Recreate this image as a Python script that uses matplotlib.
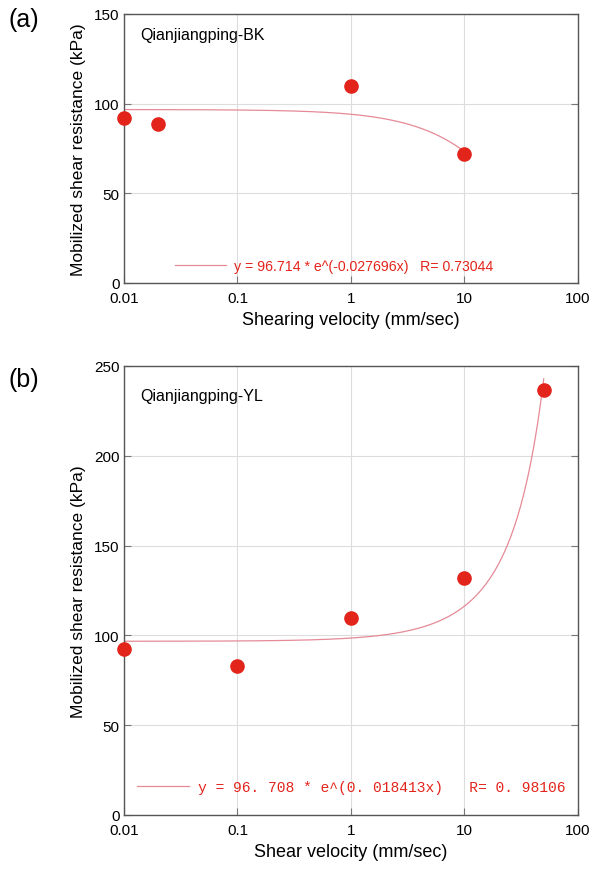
import numpy as np
import matplotlib.pyplot as plt

plt.rcParams['font.family'] = ['Liberation Sans', 'DejaVu Sans']

# Panel (a) data
VEL_A = [0.01, 0.02, 1, 10]
RES_A = [92, 88.5, 110, 72]
FIT_A = (96.714, -0.027696)
LEG_A = "y = 96.714 * e^(-0.027696x)   R= 0.73044"

# Panel (b) data
VEL_B = [0.01, 0.1, 1, 10, 50]
RES_B = [92.5, 83, 109.5, 132, 236.5]
FIT_B = (96.708, 0.018413)
LEG_B = "y = 96. 708 * e^(0. 018413x)   R= 0. 98106"

XTICKS = [0.01, 0.1, 1, 10, 100]
XTICKLABELS = ["0.01", "0.1", "1", "10", "100"]

PT_COLOR = "#e3241b"
FIT_COLOR = "#e58a96"

fig = plt.figure(figsize=(5.97, 8.70), dpi=100)
ax_a = fig.add_axes([0.2077, 0.6736, 0.7603, 0.3092])
ax_b = fig.add_axes([0.2077, 0.0621, 0.7603, 0.5161])


def draw_panel(ax, vel, res, fit, legend_text, ylim, yticks, xlabel, name,
               leg_font, leg_loc, hlen):
    xs = np.logspace(np.log10(vel[0]), np.log10(vel[-1]), 400)
    a, b = fit
    ax.plot(xs, a * np.exp(b * xs), color=FIT_COLOR, lw=0.9, label=legend_text)
    ax.plot(vel, res, 'o', color=PT_COLOR, ms=9.5, zorder=5, clip_on=False)
    ax.set_xscale('log')
    ax.set_xlim(0.01, 100)
    ax.set_ylim(*ylim)
    ax.set_xticks(XTICKS)
    ax.set_xticklabels(XTICKLABELS)
    ax.minorticks_off()
    ax.set_yticks(yticks)
    ax.tick_params(direction='in', length=5, labelsize=11, color='#777777',
                   right=True, top=False)
    ax.tick_params(axis='x', pad=6)
    ax.tick_params(axis='y', pad=3)
    ax.grid(True, color='#dddddd', lw=0.8)
    for s in ax.spines.values():
        s.set_color('#555555')
        s.set_linewidth(1.0)
    ax.set_xlabel(xlabel, fontsize=13, labelpad=4)
    ax.set_ylabel("Mobilized shear resistance (kPa)", fontsize=12.5, labelpad=6)
    ax.text(0.035, 0.95, name, transform=ax.transAxes, fontsize=11.5,
            va='top', ha='left')
    leg = ax.legend(loc='lower left', bbox_to_anchor=leg_loc, frameon=False,
                    handlelength=hlen, handletextpad=0.6, prop=leg_font)
    for t in leg.get_texts():
        t.set_color(PT_COLOR)


draw_panel(ax_a, VEL_A, RES_A, FIT_A, LEG_A, (0, 150), [0, 50, 100, 150],
           "Shearing velocity (mm/sec)", "Qianjiangping-BK",
           {'size': 10.2, 'family': ['Liberation Sans']}, (0.084, -0.012), 3.6)
draw_panel(ax_b, VEL_B, RES_B, FIT_B, LEG_B, (0, 250), [0, 50, 100, 150, 200, 250],
           "Shear velocity (mm/sec)", "Qianjiangping-YL",
           {'size': 10.5, 'family': ['Liberation Mono']}, (-0.001, 0.017), 3.6)

fig.text(0.015, 0.977, "(a)", fontsize=18, va='center', ha='left')
fig.text(0.015, 0.563, "(b)", fontsize=18, va='center', ha='left')

fig.savefig("out.png", dpi=100)
